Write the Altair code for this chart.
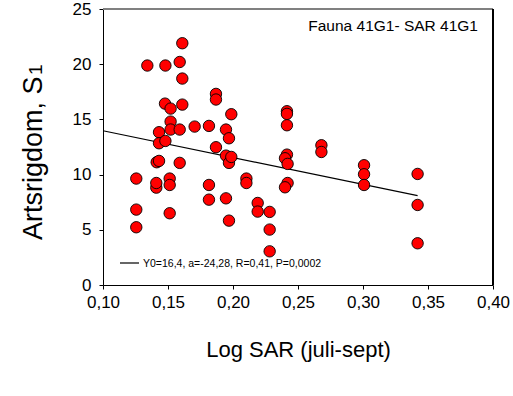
import altair as alt
import pandas as pd

sar = [0.1256, 0.1256, 0.1256, 0.1341, 0.1480, 0.1431, 0.1431, 0.1480, 0.1477,
       0.1520, 0.1520, 0.1520, 0.1413, 0.1431, 0.1410, 0.1410, 0.1513, 0.1513,
       0.1513, 0.1590, 0.1610, 0.1610, 0.1610, 0.1590, 0.1590, 0.1705, 0.1815,
       0.1815, 0.1815, 0.1869, 0.1869, 0.1869, 0.1946, 0.1969, 0.1987, 0.1946,
       0.1969, 0.1987, 0.1946, 0.1969, 0.2103, 0.2103, 0.2190, 0.2190, 0.2282,
       0.2282, 0.2282, 0.2415, 0.2415, 0.2415, 0.2415, 0.2400, 0.2420, 0.2420,
       0.2400, 0.2680, 0.2680, 0.3008, 0.3008, 0.3008, 0.3420, 0.3420, 0.3420]
arter = [9.64, 6.83, 5.23, 19.88, 19.88, 13.84, 12.84, 13.05, 16.43,
         15.98, 14.80, 14.08, 11.12, 11.24, 8.82, 9.24, 9.64, 9.06,
         6.50, 20.20, 21.90, 18.70, 16.34, 14.08, 11.06, 14.35, 14.41,
         9.06, 7.73, 17.31, 16.80, 12.48, 14.08, 13.29, 15.47, 11.72,
         11.06, 11.60, 7.85, 5.83, 9.64, 9.24, 7.43, 6.65, 6.62,
         5.02, 3.05, 15.74, 15.50, 14.47, 11.81, 11.48, 10.97, 9.24,
         8.85, 12.66, 12.05, 10.85, 10.03, 9.06, 10.06, 7.25, 3.78]

y0 = 16.4
slope = -24.28
line_x = [0.10, 0.342]
line_y = [y0 + slope * v for v in line_x]

x_ticks = [0.10, 0.15, 0.20, 0.25, 0.30, 0.35, 0.40]
y_ticks = [0, 5, 10, 15, 20, 25]

pts = pd.DataFrame({"x": sar, "y": arter})
ln = pd.DataFrame({"x": line_x, "y": line_y})

FONT = "Liberation Sans"

xscale = alt.Scale(domain=[0.10, 0.40], nice=False, zero=False)
yscale = alt.Scale(domain=[0, 25], nice=False)

xaxis = alt.Axis(values=x_ticks, title="Log SAR (juli-sept)",
                 labelExpr="replace(format(datum.value, '.2f'), '.', ',')",
                 labelFlush=False, labelOverlap=False,
                 grid=False, tickSize=4, tickColor="black", domainColor="black",
                 labelFontSize=17, labelColor="black", labelFont=FONT, labelPadding=5,
                 titleFontSize=22, titleFont=FONT, titleFontWeight="normal",
                 titleColor="black", titleBaseline="alphabetic", titleY=71)
yaxis = alt.Axis(values=y_ticks, title=None, grid=False, tickSize=4,
                 labelFlush=False, labelOverlap=False,
                 tickColor="black", domainColor="black",
                 labelFontSize=17, labelColor="black", labelFont=FONT, labelPadding=8)

line = alt.Chart(ln).mark_line(color="black", strokeWidth=1.2).encode(
    x=alt.X("x:Q", scale=xscale, axis=xaxis),
    y=alt.Y("y:Q", scale=yscale, axis=yaxis),
)

points = alt.Chart(pts).mark_point(
    shape="circle", filled=True, fill="#ff0000", stroke="black",
    strokeWidth=0.9, size=130, opacity=1
).encode(
    x=alt.X("x:Q", scale=xscale),
    y=alt.Y("y:Q", scale=yscale),
)

top_border = alt.Chart(pts).mark_rule(color="#808080", strokeWidth=1.5).encode(
    x=alt.value(0), x2=alt.value(390), y=alt.value(0)
)
right_border = alt.Chart(pts).mark_rule(color="black", strokeWidth=1.2).encode(
    x=alt.value(390), y=alt.value(0), y2=alt.value(276)
)

ytitle_main = alt.Chart(pd.DataFrame({"t": ["Artsrigdom, S"]})).mark_text(
    align="left", baseline="alphabetic", angle=270, fontSize=27, font=FONT, color="black"
).encode(text="t:N", x=alt.value(-61.3), y=alt.value(231))
ytitle_sub = alt.Chart(pd.DataFrame({"t": ["1"]})).mark_text(
    align="left", baseline="alphabetic", angle=270, fontSize=19, font=FONT, color="black"
).encode(text="t:N", x=alt.value(-61.3), y=alt.value(66))

title_txt = alt.Chart(pd.DataFrame({"t": ["Fauna 41G1- SAR 41G1"]})).mark_text(
    align="right", baseline="alphabetic", fontSize=15.5, font=FONT, color="black"
).encode(text="t:N", x=alt.value(375), y=alt.value(22))

legend_line = alt.Chart(pd.DataFrame({"a": [1]})).mark_rule(color="black", strokeWidth=1.2).encode(
    x=alt.value(17), x2=alt.value(36), y=alt.value(254)
)
legend_txt = alt.Chart(pd.DataFrame({"t": ["Y0=16,4, a=-24,28, R=0,41, P=0,0002"]})).mark_text(
    align="left", baseline="middle", fontSize=10.5, font=FONT, color="black"
).encode(text="t:N", x=alt.value(40), y=alt.value(254.5))

chart = alt.layer(line, points, top_border, right_border, ytitle_main, ytitle_sub,
                  title_txt, legend_line, legend_txt).properties(
    width=390, height=276,
    autosize=alt.AutoSizeParams(type="none"),
    padding={"left": 103, "top": 9, "right": 20, "bottom": 111},
    background="white",
).configure_view(stroke=None)

chart.save("out.html", embed_options={"renderer": "svg", "actions": False})
